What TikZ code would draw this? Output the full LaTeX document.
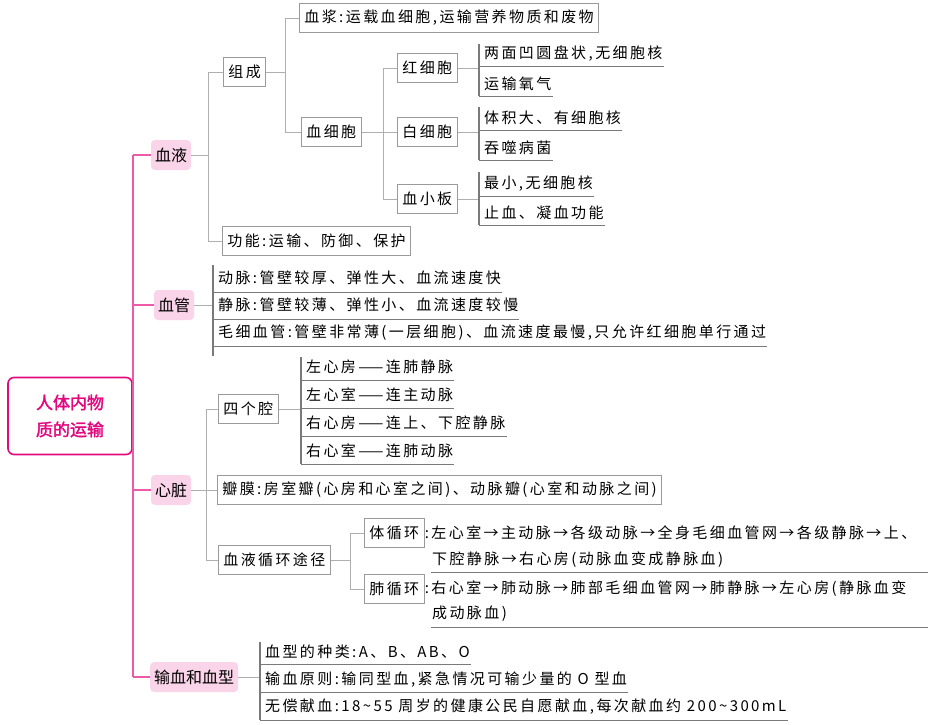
\documentclass[tikz,border=0pt]{standalone}
\usepackage{fontspec}
\newfontfamily\cjk[AutoFakeBold=2]{Noto Sans CJK SC}
\newfontfamily\cjkw[LetterSpace=16]{Noto Sans CJK SC}
\usetikzlibrary{positioning}
\definecolor{rootpink}{HTML}{E2097F}
\definecolor{trunkpink}{HTML}{EC5AA8}
\definecolor{pinkfill}{HTML}{FAD4E9}
\definecolor{boxgray}{HTML}{9A9A9A}
\definecolor{linkgray}{HTML}{AFAFAF}
\definecolor{bargray}{HTML}{7A7A7A}
\tikzset{
  txt/.style={font=\cjkw\fontsize{15}{17}\selectfont},
  rootbox/.style={draw=rootpink, line width=1.6pt, rounded corners=6pt, minimum width=124pt,
    minimum height=77pt, align=center, text=rootpink, font=\cjk\bfseries\fontsize{17}{27}\selectfont},
  topic/.style={font=\cjk\fontsize{16}{17}\selectfont, fill=pinkfill, rounded corners=4pt, minimum height=30pt, inner sep=4pt},
  box/.style={txt, draw=boxgray, line width=0.8pt, fill=white, minimum height=29pt, inner sep=5pt},
  leaf/.style={txt, anchor=west, inner sep=1pt},
  link/.style={draw=linkgray, line width=1pt},
  trunk/.style={draw=trunkpink, line width=1.2pt},
  bar/.style={draw=bargray, line width=2pt},
  uline/.style={draw=bargray, line width=0.8pt}
}
\begin{document}
\begin{tikzpicture}[x=1pt,y=-1pt]
\useasboundingbox (0,0) rectangle (930,724);
% root and main topics
\node[rootbox] (root) at (70,416) {人体内物\\质的运输};
\node[topic] (xueye) at (171,155) {血液};
\node[topic] (xueguan) at (174,305) {血管};
\node[topic] (xinzang) at (171,490) {心脏};
\node[topic, anchor=west] (shuxue) at (150,677) {输血和血型};
\draw[trunk] (133,155) -- (133,677);
\foreach \t in {xueye,xueguan,xinzang,shuxue}
\draw[trunk] (133,0 |- \t.west) -- (\t.west);

% blood
\node[box, anchor=west] (zucheng) at (223,72) {组成};
\node[box, anchor=west] (gongneng) at (222,241) {功能:\,运输、防御、保护};
\draw[link] (xueye.east) -- (208,155);
\draw[link] (zucheng.west) -| (208,241) -- (gongneng.west);
\draw[link] (208,155) |- (zucheng.west);
\node[box, anchor=west] (xuejiang) at (299,18) {血浆:\,运载血细胞,\,运输营养物质和废物};
\node[box, anchor=west] (xuexibao) at (301,132) {血细胞};
\draw[link] (zucheng.east) -- (285,72);
\draw[link] (xuejiang.west) -| (285,132) -- (xuexibao.west);
\node[box, anchor=west] (hong) at (397,68) {红细胞};
\node[box, anchor=west] (bai) at (397,132) {白细胞};
\node[box, anchor=west] (xiaoban) at (397,199) {血小板};
\draw[link] (xuexibao.east) -- (bai.west);
\draw[link] (hong.west) -| (383,199) -- (xiaoban.west);
\foreach \b/\ya/\yb in {hong/44/96, bai/107/160, xiaoban/172/225}{
  \draw[link] (\b.east) -- (479,0 |- \b.east);
  \draw[bar] (479,\ya) -- (479,\yb);
}
\node[leaf] (h1) at (483,54) {两面凹圆盘状,\,无细胞核};
\node[leaf] (h2) at (483,84) {运输氧气};
\node[leaf] (b1) at (483,118) {体积大、有细胞核};
\node[leaf] (b2) at (483,148) {吞噬病菌};
\node[leaf] (x1) at (483,184) {最小,\,无细胞核};
\node[leaf] (x2) at (483,213) {止血、凝血功能};
\foreach \l/\y in {h1/66, h2/96, b1/130, b2/160, x1/196, x2/225}
\draw[uline] (479,\y) -- (\l.east |- 0,\y);

% vessels
\draw[link] (xueguan.east) -- (213,305);
\draw[bar] (213,265) -- (213,356);
\node[leaf] (dm) at (217,278) {动脉:\,管壁较厚、弹性大、血流速度快};
\node[leaf] (jm) at (217,305) {静脉:\,管壁较薄、弹性小、血流速度较慢};
\node[leaf] (mx) at (217,333) {毛细血管:\,管壁非常薄(一层细胞)、血流速度最慢,\,只允许红细胞单行通过};
\foreach \l/\y in {dm/292, jm/319, mx/346}
\draw[uline] (213,\y) -- (\l.east |- 0,\y);

% heart
\node[box, anchor=west] (sigeqiang) at (218,409) {四个腔};
\node[box, anchor=west] (banmo) at (217,490) {瓣膜:\,房室瓣(心房和心室之间)、动脉瓣(心室和动脉之间)};
\node[box, anchor=west] (xunhuan) at (218,560) {血液循环途径};
\draw[link] (xinzang.east) -- (banmo.west);
\draw[link] (sigeqiang.west) -| (206,560) -- (xunhuan.west);
\draw[link] (sigeqiang.east) -- (301,409);
\draw[bar] (301,357) -- (301,464);
\node[leaf] (q1) at (305,367) {左心房——连肺静脉};
\node[leaf] (q2) at (305,395) {左心室——连主动脉};
\node[leaf] (q3) at (305,423) {右心房——连上、下腔静脉};
\node[leaf] (q4) at (305,451) {右心室——连肺动脉};
\foreach \l/\y in {q1/380, q2/408, q3/436, q4/464}
\draw[uline] (301,\y) -- (\l.east |- 0,\y);
\node[box, anchor=west] (ti) at (364,533) {体循环};
\node[box, anchor=west] (fei) at (364,589) {肺循环};
\draw[link] (xunhuan.east) -- (350,560);
\draw[link] (ti.west) -| (350,589) -- (fei.west);
\node[leaf, inner sep=0pt] (ti1) at (ti.east) {:\,左心室→主动脉→各级动脉→全身毛细血管网→各级静脉→上、};
\node[leaf] (ti2) at (431,560) {下腔静脉→右心房(动脉血变成静脉血)};
\node[leaf, inner sep=0pt] (fei1) at (fei.east) {:\,右心室→肺动脉→肺部毛细血管网→肺静脉→左心房(静脉血变};
\node[leaf] (fei2) at (431,614) {成动脉血)};
\draw[uline] (431,572) coordinate (u1) -- (928,572);
\draw[uline] (431,627) coordinate (u2) -- (928,627);

% transfusion
\draw[link] (shuxue.east) -- (260,677);
\draw[bar] (260,642) -- (260,720);
\node[leaf] (s1) at (264,652) {血型的种类:\,A、B、AB、O};
\node[leaf] (s2) at (264,680) {输血原则:\,输同型血,\,紧急情况可输少量的 O 型血};
\node[leaf] (s3) at (264,707) {无偿献血:\,18\textasciitilde 55 周岁的健康公民自愿献血,\,每次献血约 200\textasciitilde 300mL};
\foreach \l/\y in {s1/664, s2/692, s3/720}
\draw[uline] (260,\y) -- (\l.east |- 0,\y);
\end{tikzpicture}
\end{document}
